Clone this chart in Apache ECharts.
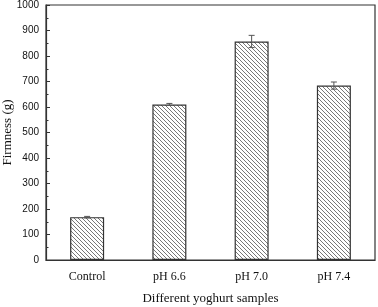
<!DOCTYPE html>
<html>
<head>
<meta charset="utf-8">
<script src="https://cdn.jsdelivr.net/npm/echarts@6/dist/echarts.min.js"></script>
<style>
html, body { margin: 0; padding: 0; background: #fff; }
#chart { width: 378px; height: 307px; }
</style>
</head>
<body>
<div id="chart"></div>
<script>
var categories = ['Control', 'pH 6.6', 'pH 7.0', 'pH 7.4'];
var firmness = [168, 610, 857, 684];
var errors = [3, 4, 24, 14];

// hatch pattern for the bars
var hatch = document.createElement('canvas');
hatch.width = 4;
hatch.height = 4;
var ctx = hatch.getContext('2d');
ctx.fillStyle = '#fff';
ctx.fillRect(0, 0, 4, 4);
ctx.strokeStyle = '#555';
ctx.lineWidth = 0.8;
ctx.beginPath();
ctx.moveTo(-1, -1); ctx.lineTo(5, 5);
ctx.moveTo(-1, 3); ctx.lineTo(1, 5);
ctx.moveTo(3, -1); ctx.lineTo(5, 1);
ctx.stroke();

var myChart = echarts.init(document.getElementById('chart'));

var option = {
    animation: false,
    grid: {
        left: 46,
        right: 3,
        top: 5,
        bottom: 47,
        outerBoundsMode: 'none',
        containLabel: false,
        show: true,
        borderColor: '#333',
        borderWidth: 1.2,
        backgroundColor: 'transparent'
    },
    xAxis: {
        type: 'category',
        data: categories,
        axisLine: { lineStyle: { color: '#333', width: 1.2 } },
        axisTick: { show: false },
        axisLabel: { color: '#111', fontFamily: 'Liberation Serif', fontSize: 12, margin: 11 },
        name: 'Different yoghurt samples',
        nameLocation: 'middle',
        nameGap: 32,
        nameMoveOverlap: false,
        nameTextStyle: { color: '#111', fontFamily: 'Liberation Serif', fontSize: 13 }
    },
    yAxis: {
        type: 'value',
        min: 0,
        max: 1000,
        interval: 100,
        axisLine: { show: true, lineStyle: { color: '#333', width: 1.2 } },
        axisTick: { show: true, inside: true, length: 4, lineStyle: { color: '#333' } },
        minorTick: { show: true, splitNumber: 2, length: 2.5, lineStyle: { color: '#333' } },
        splitLine: { show: false },
        axisLabel: {
            color: '#111', fontFamily: 'Liberation Sans', fontSize: 10, margin: 7,
            formatter: function (v) { return String(v); }
        },
        name: 'Firmness (g)',
        nameLocation: 'middle',
        nameGap: 32,
        nameMoveOverlap: false,
        nameTextStyle: { color: '#111', fontFamily: 'Liberation Serif', fontSize: 13 }
    },
    series: [
        {
            type: 'bar',
            data: firmness,
            barWidth: 34,
            itemStyle: {
                color: { image: hatch, repeat: 'repeat' },
                borderColor: '#333',
                borderWidth: 1.2
            }
        },
        {
            type: 'custom',
            data: firmness.map(function (v, i) { return [i, v - errors[i], v + errors[i]]; }),
            renderItem: function (params, api) {
                var lo = api.coord([api.value(0), api.value(1)]);
                var hi = api.coord([api.value(0), api.value(2)]);
                var w = 3;
                return {
                    type: 'group',
                    children: [
                        { type: 'line', shape: { x1: hi[0], y1: hi[1], x2: lo[0], y2: lo[1] }, style: { stroke: '#555', lineWidth: 1 } },
                        { type: 'line', shape: { x1: hi[0] - w, y1: hi[1], x2: hi[0] + w, y2: hi[1] }, style: { stroke: '#555', lineWidth: 1 } },
                        { type: 'line', shape: { x1: lo[0] - w, y1: lo[1], x2: lo[0] + w, y2: lo[1] }, style: { stroke: '#555', lineWidth: 1 } }
                    ]
                };
            },
            z: 5
        }
    ]
};

myChart.setOption(option);
</script>
</body>
</html>
